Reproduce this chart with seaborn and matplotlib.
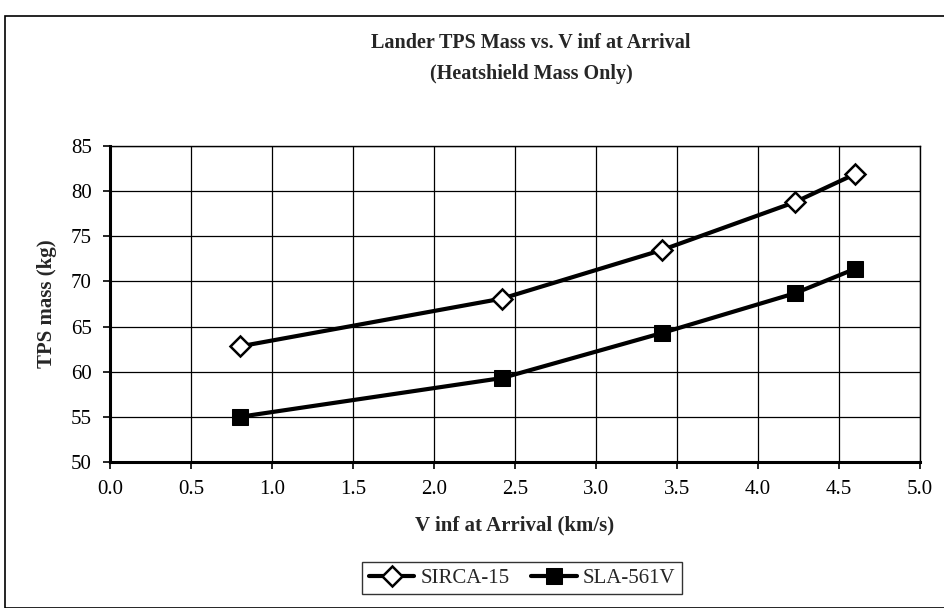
import numpy as np
import pandas as pd
import matplotlib
matplotlib.use("Agg")
import matplotlib.pyplot as plt
import seaborn as sns
from matplotlib.patches import Rectangle

# data
v_inf = [0.8, 2.42, 3.41, 4.23, 4.6]
sirca_mass = [62.8, 68.1, 73.5, 78.8, 81.9]
sla_mass = [55.0, 59.3, 64.3, 68.7, 71.4]
x_ticks = [0.0, 0.5, 1.0, 1.5, 2.0, 2.5, 3.0, 3.5, 4.0, 4.5, 5.0]
y_ticks = [50, 55, 60, 65, 70, 75, 80, 85]

sns.set_style("white")
plt.rcParams['font.family'] = ['Liberation Serif', 'DejaVu Serif']

sirca = pd.DataFrame({"v": v_inf, "mass": sirca_mass})
sla = pd.DataFrame({"v": v_inf, "mass": sla_mass})

fig = plt.figure(figsize=(9.45, 6.08), dpi=100)
ax = fig.add_axes([110/945, 146/608, 810/945, 316/608])

# outer chart frame
fig.patches.append(Rectangle((5/945, 0.0), 1.0, (608-16)/608, transform=fig.transFigure,
                             fill=False, edgecolor="black", linewidth=1.2))

sns.lineplot(data=sirca, x="v", y="mass", ax=ax, color="black", linewidth=3,
             marker="D", markersize=10, markerfacecolor="white",
             markeredgecolor="black", markeredgewidth=1.8, label="SIRCA-15")
sns.lineplot(data=sla, x="v", y="mass", ax=ax, color="black", linewidth=3,
             marker="s", markersize=11, markerfacecolor="black",
             markeredgecolor="black", label="SLA-561V")

ax.set_xlim(0, 5)
ax.set_ylim(50, 85)
ax.set_xticks(x_ticks)
ax.set_xticklabels([f"{t:.1f}" for t in x_ticks])
ax.set_yticks(y_ticks)
ax.grid(True, color="black", linewidth=0.9)
ax.tick_params(axis="both", direction="out", length=5, width=1.2,
               labelsize=15, colors="black", pad=8)
ax.tick_params(axis="both", left=True, bottom=True)
for side in ["top", "right"]:
    ax.spines[side].set_linewidth(1.0)
for side in ["left", "bottom"]:
    ax.spines[side].set_linewidth(2.2)
for s in ax.spines.values():
    s.set_color("black")

ax.set_xlabel("V inf at Arrival (km/s)", fontsize=15, fontweight="bold", labelpad=12)
ax.set_ylabel("TPS mass (kg)", fontsize=15, fontweight="bold", labelpad=10)

fig.text(531/945, 1 - 43/608, "Lander TPS Mass vs. V inf at Arrival",
         ha="center", va="center", fontsize=14.5, fontweight="bold")
fig.text(531/945, 1 - 74/608, "(Heatshield Mass Only)",
         ha="center", va="center", fontsize=14.5, fontweight="bold")

leg = ax.legend(loc="center", bbox_to_anchor=(522/945, 1 - 578/608),
                bbox_transform=fig.transFigure, ncol=2, frameon=True,
                fancybox=False, edgecolor="black", fontsize=15,
                handlelength=2.2, columnspacing=1.0, handletextpad=0.3,
                borderpad=0.3)
leg.get_frame().set_linewidth(1.0)

fig.savefig("out.png", dpi=100)
